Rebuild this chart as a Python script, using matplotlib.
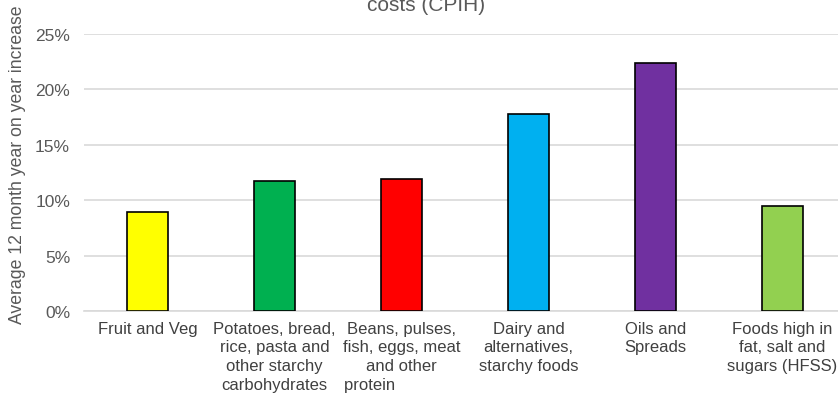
# -*- coding:utf-8 -*-
from matplotlib import pyplot as plt
from matplotlib.ticker import FuncFormatter

# 数据
categories = [
    "Fruit and Veg",
    "Potatoes, bread,\nrice, pasta and\nother starchy\ncarbohydrates",
    "Beans, pulses,\nfish, eggs, meat\nand other\nprotein              ",
    "Dairy and\nalternatives,\nstarchy foods",
    "Oils and\nSpreads",
    "Foods high in\nfat, salt and\nsugars (HFSS)",
]
increase = [8.9, 11.7, 11.9, 17.8, 22.4, 9.5]
bar_colors = ["#FFFF00", "#00B050", "#FF0000", "#00B0F0", "#7030A0", "#92D050"]


def draw_bar():
    plt.rcParams['font.family'] = ['Liberation Sans', 'DejaVu Sans']

    fig = plt.figure(figsize=(8.38, 4.02), dpi=100)
    # 右边被裁掉一点，所以 axes 超出画布
    ax = fig.add_axes([84 / 838, 1 - 312 / 402, 762 / 838, 277 / 402])

    x = range(len(categories))
    ax.bar(x, increase, width=0.32, color=bar_colors, edgecolor="black",
           linewidth=1.2, zorder=3)

    ax.set_xlim(-0.5, len(categories) - 0.5)
    ax.set_ylim(0, 25)
    ax.set_yticks([0, 5, 10, 15, 20, 25])
    ax.yaxis.set_major_formatter(FuncFormatter(lambda v, p: "%d%%" % v))
    ax.set_xticks(list(x))
    ax.set_xticklabels(categories, fontsize=12, color="#404040",
                       multialignment="center", linespacing=1.3)

    ax.grid(axis="y", color="#d9d9d9", linewidth=1.2, zorder=0)
    for s in ["top", "right", "left"]:
        ax.spines[s].set_visible(False)
    ax.spines["bottom"].set_color("#d9d9d9")
    ax.spines["bottom"].set_linewidth(1.2)
    ax.tick_params(axis="y", length=0, labelsize=12.5, labelcolor="#595959", pad=10)
    ax.tick_params(axis="x", length=0, pad=7)
    for lab in ax.get_xticklabels():
        lab.set_color("#404040")

    ax.set_ylabel("Average 12 month year on year increase", fontsize=12.7,
                  color="#595959")
    ax.yaxis.set_label_coords(-0.076, 0.532)

    # 标题只露出下半行
    fig.text(426 / 838, 1 - 11 / 402, "costs (CPIH)", ha="center",
             va="baseline", fontsize=15, color="#595959")

    fig.savefig("out.png", dpi=100)


if __name__ == '__main__':
    draw_bar()
